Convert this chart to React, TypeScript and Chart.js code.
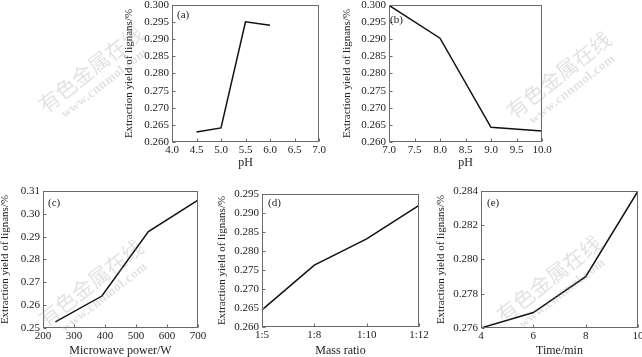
import React, { useEffect, useRef } from "react";
import { Chart, registerables } from "chart.js";
Chart.register(...registerables);

// ---- data ----
const phA = [4.5, 5.0, 5.5, 6.0];
const yieldA = [0.2629, 0.2641, 0.2951, 0.2941];
const xTicksA = ["4.0", "4.5", "5.0", "5.5", "6.0", "6.5", "7.0"];
const yTicksA = ["0.260", "0.265", "0.270", "0.275", "0.280", "0.285", "0.290", "0.295", "0.300"];

const phB = [7, 8, 9, 10];
const yieldB = [0.2999, 0.2903, 0.2643, 0.2632];
const xTicksB = ["7.0", "7.5", "8.0", "8.5", "9.0", "9.5", "10.0"];
const yTicksB = ["0.260", "0.265", "0.270", "0.275", "0.280", "0.285", "0.290", "0.295", "0.300"];

const powerC = [240, 390, 540, 700];
const yieldC = [0.2527, 0.2640, 0.2922, 0.3060];
const xTicksC = ["200", "300", "400", "500", "600", "700"];
const yTicksC = ["0.25", "0.26", "0.27", "0.28", "0.29", "0.30", "0.31"];

const ratioD = ["1:5", "1:8", "1:10", "1:12"];
const yieldD = [0.2645, 0.2763, 0.2832, 0.2920];
const yTicksD = ["0.260", "0.265", "0.270", "0.275", "0.280", "0.285", "0.290", "0.295"];

const timeE = [4, 6, 8, 10];
const yieldE = [0.2760, 0.2769, 0.2790, 0.2840];
const xTicksE = ["4", "6", "8", "10"];
const yTicksE = ["0.276", "0.278", "0.280", "0.282", "0.284"];

const Y_TITLE = "Extraction yield of lignans/%";
const SERIF = "'Liberation Serif', 'Times New Roman', serif";

type Cfg = {
  label: string;
  L: number; R: number; T: number; B: number;
  yTitleX: number; xTitleY: number;
  labelDx: number; labelDy: number;
  xType: "linear" | "category";
  xValues: (number | string)[];
  yValues: number[];
  xTicks?: string[];
  yTicks: string[];
  xTitle: string;
};

const panels: Cfg[] = [
  { label: "(a)", L: 172, R: 319, T: 5, B: 142, yTitleX: 130, xTitleY: 163, labelDx: 5, labelDy: 10,
    xType: "linear", xValues: phA, yValues: yieldA, xTicks: xTicksA, yTicks: yTicksA, xTitle: "pH" },
  { label: "(b)", L: 389, R: 542, T: 5, B: 142, yTitleX: 348, xTitleY: 163, labelDx: 1, labelDy: 15,
    xType: "linear", xValues: phB, yValues: yieldB, xTicks: xTicksB, yTicks: yTicksB, xTitle: "pH" },
  { label: "(c)", L: 43, R: 198, T: 191, B: 328, yTitleX: 6, xTitleY: 351, labelDx: 5, labelDy: 12,
    xType: "linear", xValues: powerC, yValues: yieldC, xTicks: xTicksC, yTicks: yTicksC, xTitle: "Microwave power/W" },
  { label: "(d)", L: 262, R: 419, T: 194, B: 327, yTitleX: 223, xTitleY: 351, labelDx: 6, labelDy: 9,
    xType: "category", xValues: ratioD, yValues: yieldD, yTicks: yTicksD, xTitle: "Mass ratio" },
  { label: "(e)", L: 481, R: 638, T: 191, B: 328, yTitleX: 442, xTitleY: 351, labelDx: 6, labelDy: 12,
    xType: "linear", xValues: timeE, yValues: yieldE, xTicks: xTicksE, yTicks: yTicksE, xTitle: "Time/min" },
];

const AXIS_COLOR = "#6a6a6a";
const TEXT_COLOR = "#222";

function Panel({ cfg }: { cfg: Cfg }) {
  const ref = useRef<HTMLCanvasElement>(null);
  const yLH = 11 * 1.2;
  const xLH = 12 * 1.2;
  const canvasLeft = Math.round(cfg.yTitleX - yLH / 2);
  const yW = cfg.L - canvasLeft;
  const padTop = 10;
  const padRight = 16;
  const canvasTop = cfg.T - padTop;
  const xH = Math.round(cfg.xTitleY + xLH / 2 - cfg.B);
  const width = yW + (cfg.R - cfg.L) + padRight;
  const height = padTop + (cfg.B - cfg.T) + xH;

  useEffect(() => {
    if (!ref.current) return;
    const yNums = cfg.yTicks.map(Number);
    const ds: any = {
      borderColor: "#111",
      borderWidth: 1.5,
      pointRadius: 0,
      fill: false,
      tension: 0,
    };
    let data: any;
    if (cfg.xType === "category") {
      data = { labels: cfg.xValues, datasets: [{ ...ds, data: cfg.yValues }] };
    } else {
      data = {
        datasets: [{ ...ds, data: cfg.xValues.map((x, i) => ({ x: x as number, y: cfg.yValues[i] })) }],
      };
    }
    const tickFont = { family: SERIF, size: 11 };
    const xScale: any = {
      type: cfg.xType,
      offset: false,
      grid: { display: false, drawTicks: false },
      border: { display: false },
      ticks: { font: tickFont, color: TEXT_COLOR, padding: 2, maxRotation: 0, minRotation: 0, autoSkip: false },
      title: { display: true, text: cfg.xTitle, font: { family: SERIF, size: 12, lineHeight: 1.2 }, color: TEXT_COLOR, padding: 0 },
      afterFit: (s: any) => { s.height = xH; },
    };
    if (cfg.xType === "linear" && cfg.xTicks) {
      const xt = cfg.xTicks;
      const xNums = xt.map(Number);
      xScale.min = xNums[0];
      xScale.max = xNums[xNums.length - 1];
      xScale.afterBuildTicks = (s: any) => { s.ticks = xNums.map((v) => ({ value: v })); };
      xScale.ticks.callback = (_v: any, i: number) => xt[i];
    }
    const yt = cfg.yTicks;
    const yScale: any = {
      type: "linear",
      min: yNums[0],
      max: yNums[yNums.length - 1],
      grid: { display: false, drawTicks: false },
      border: { display: false },
      ticks: { font: tickFont, color: TEXT_COLOR, padding: 3, callback: (_v: any, i: number) => yt[i] },
      afterBuildTicks: (s: any) => { s.ticks = yNums.map((v) => ({ value: v })); },
      title: { display: true, text: Y_TITLE, font: { family: SERIF, size: 11, lineHeight: 1.2 }, color: TEXT_COLOR, padding: 0 },
      afterFit: (s: any) => { s.width = yW; },
    };

    const frame = {
      id: "frame",
      afterDraw(chart: any) {
        const { ctx, chartArea } = chart;
        const l = Math.round(chartArea.left) + 0.5;
        const t = Math.round(chartArea.top) + 0.5;
        const r = Math.round(chartArea.right) - 0.5;
        const b = Math.round(chartArea.bottom) - 0.5;
        ctx.save();
        ctx.strokeStyle = AXIS_COLOR;
        ctx.lineWidth = 1;
        ctx.strokeRect(l, t, r - l, b - t);
        ctx.beginPath();
        const xs = chart.scales.x;
        xs.ticks.forEach((_t: any, i: number) => {
          const px = Math.round(xs.getPixelForTick(i)) + 0.5;
          ctx.moveTo(px, b);
          ctx.lineTo(px, b - 3);
        });
        const ys = chart.scales.y;
        ys.ticks.forEach((_t: any, i: number) => {
          const py = Math.round(ys.getPixelForTick(i)) + 0.5;
          ctx.moveTo(l, py);
          ctx.lineTo(l + 3, py);
        });
        ctx.stroke();
        ctx.fillStyle = TEXT_COLOR;
        ctx.font = `11px ${SERIF}`;
        ctx.textBaseline = "middle";
        ctx.textAlign = "left";
        ctx.fillText(cfg.label, chartArea.left + cfg.labelDx, chartArea.top + cfg.labelDy);
        ctx.restore();
      },
    };

    const chart = new Chart(ref.current, {
      type: "line",
      data,
      options: {
        animation: false,
        responsive: false,
        maintainAspectRatio: false,
        devicePixelRatio: 1,
        layout: { padding: { top: padTop, right: padRight, left: 0, bottom: 0 } },
        plugins: { legend: { display: false }, tooltip: { enabled: false } },
        scales: { x: xScale, y: yScale },
      } as any,
      plugins: [frame],
    });
    return () => chart.destroy();
  }, []);

  return (
    <canvas
      ref={ref}
      width={width}
      height={height}
      style={{ position: "absolute", left: canvasLeft, top: canvasTop, width, height }}
    />
  );
}

const watermarks = [
  { cx: 90, cy: 68 },
  { cx: 558, cy: 74 },
  { cx: 90, cy: 282 },
  { cx: 548, cy: 278 },
];

function Watermark({ cx, cy }: { cx: number; cy: number }) {
  return (
    <>
      <div
        style={{
          position: "absolute", left: cx - 80, top: cy - 14, width: 160, height: 28,
          textAlign: "center", lineHeight: "28px",
          fontFamily: "'Noto Sans CJK SC', sans-serif", fontSize: 21,
          color: "rgba(150,150,150,0.28)", transform: "rotate(-38deg)", pointerEvents: "none",
          whiteSpace: "nowrap",
        }}
      >
        有色金属在线
      </div>
      <div
        style={{
          position: "absolute", left: cx + 14 - 70, top: cy + 15 - 10, width: 140, height: 20,
          textAlign: "center", lineHeight: "20px",
          fontFamily: SERIF, fontSize: 13, fontWeight: "bold", letterSpacing: 0.5,
          color: "rgba(150,150,150,0.28)", transform: "rotate(-38deg)", pointerEvents: "none",
          whiteSpace: "nowrap",
        }}
      >
        www.cnnmol.com
      </div>
    </>
  );
}

export default function App() {
  return (
    <div style={{ position: "absolute", left: 0, top: 0, width: 642, height: 357, overflow: "hidden", background: "#fff" }}>
      {panels.map((p) => (
        <Panel key={p.label} cfg={p} />
      ))}
      {watermarks.map((w, i) => (
        <Watermark key={i} cx={w.cx} cy={w.cy} />
      ))}
    </div>
  );
}
